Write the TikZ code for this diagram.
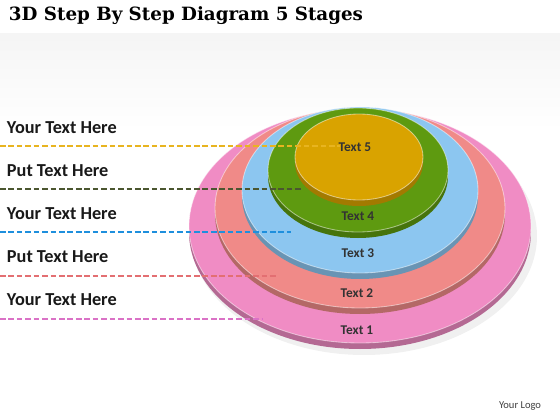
\documentclass[tikz,border=0pt]{standalone}
\usepackage{fontspec}
\setmainfont{Carlito}
\newfontfamily\titrefont{DejaVu Serif}

\definecolor{disqueA}{HTML}{F08CC4}
\definecolor{disqueB}{HTML}{F08A88}
\definecolor{disqueC}{HTML}{8CC6F0}
\definecolor{disqueD}{HTML}{5E9A10}
\definecolor{disqueE}{HTML}{D9A300}
\definecolor{traitA}{HTML}{DA72C6}
\definecolor{traitB}{HTML}{E36F72}
\definecolor{traitC}{HTML}{1E8FDD}
\definecolor{traitD}{HTML}{4B5630}
\definecolor{traitE}{HTML}{E8B420}

\tikzset{
  etiquette/.style={anchor=west, font=\fontsize{13}{15}\selectfont\bfseries, text=black!90},
  texte/.style={font=\fontsize{9.5}{11}\selectfont\bfseries, text=black!80},
  pointille/.style={line width=1.1pt, dash pattern=on 4pt off 2pt}
}

\begin{document}
\begin{tikzpicture}[x=0.025cm,y=-0.025cm]

\useasboundingbox (0,0) rectangle (560,420);
\fill[white] (0,0) rectangle (560,420);
% bande grise sous le titre
\shade[top color=black!4, bottom color=white] (0,34) rectangle (560,130);

% titre
\node[anchor=west, font=\titrefont\bfseries\fontsize{13}{15}\selectfont] (titre) at (4,16) {3D Step By Step Diagram 5 Stages};

% ombre du grand disque
\fill[black, opacity=0.06] (364,236) ellipse [x radius=173, y radius=119];

%les disques, du plus grand au plus petit
\foreach \n/\cx/\cy/\rx/\ry/\coul in {%
    1/360/226/171/117/disqueA,%
    2/360/208/145/100/disqueB,%
    3/360/190/118/83/disqueC,%
    4/358/170/90/62/disqueD,%
    5/359/157/64/43/disqueE%
}{
    % tranche du disque
    \fill[\coul!75!black] (\cx,\cy+6) ellipse [x radius=\rx, y radius=\ry];
    % face du disque
    \fill[\coul] (\cx,\cy) ellipse [x radius=\rx, y radius=\ry];
    \draw[white, opacity=0.5, line width=0.6pt] (\cx,\cy) ellipse [x radius=\rx, y radius=\ry];
}

% textes des disques
\node[texte] (t1) at (357,330) {Text 1};
\node[texte] (t2) at (357,293) {Text 2};
\node[texte] (t3) at (358,253) {Text 3};
\node[texte] (t4) at (358,216) {Text 4};
\node[texte] (t5) at (355,147) {Text 5};

% textes de gauche
\node[etiquette] (g5) at (2,128) {Your Text Here};
\node[etiquette] (g4) at (2,171) {Put Text Here};
\node[etiquette] (g3) at (2,214) {Your Text Here};
\node[etiquette] (g2) at (2,257) {Put Text Here};
\node[etiquette] (g1) at (2,300) {Your Text Here};

% lignes pointillees
\foreach \n/\y/\xfin/\coul in {5/146/340/traitE, 4/189/302/traitD, 3/232/291/traitC, 2/276/277/traitB, 1/319/263/traitA}{
    \coordinate (d\n a) at (0,\y);
    \coordinate (d\n b) at (\xfin,\y);
    \draw[pointille, \coul] (d\n a) -- (d\n b);
}

% logo
\node[anchor=east, font=\fontsize{7.5}{9}\selectfont, text=black!75] (logo) at (546,406) {Your Logo};

\end{tikzpicture}
\end{document}
